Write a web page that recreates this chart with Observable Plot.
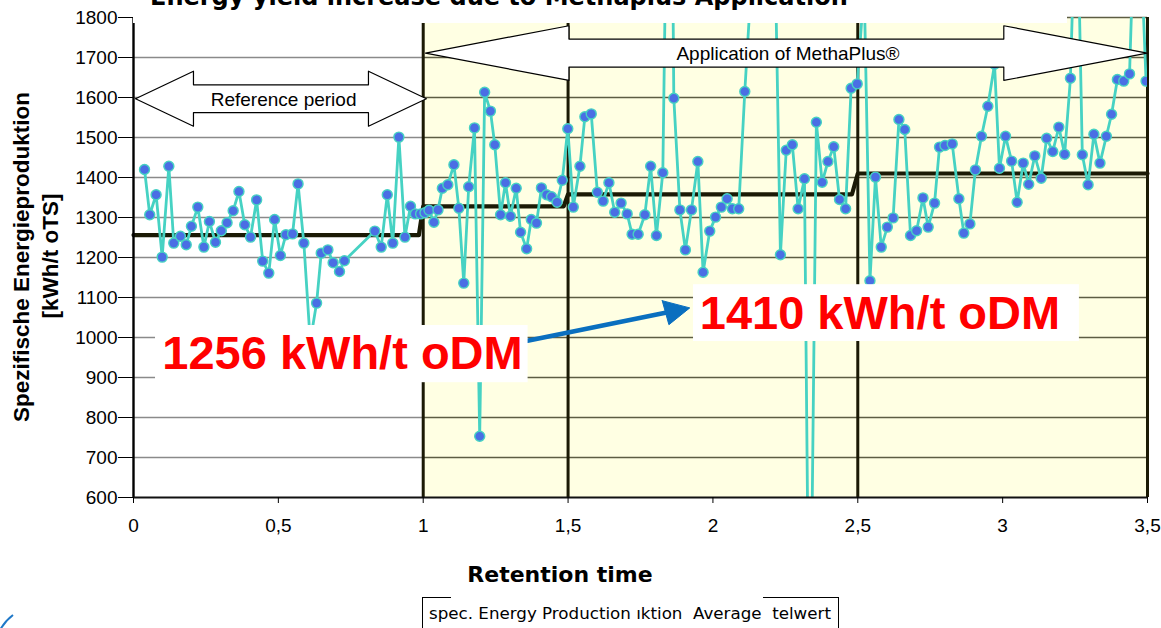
<!DOCTYPE html>
<html><head><meta charset="utf-8">
<script src="https://cdn.jsdelivr.net/npm/d3@7"></script>
<script src="https://cdn.jsdelivr.net/npm/@observablehq/plot@0.6"></script>
<style>
body{margin:0;background:#fff;}
#wrap{position:relative;width:1161px;height:628px;overflow:hidden;background:#fff;}
#chart{position:absolute;left:0;top:0;}
#title{position:absolute;left:133px;top:0;width:934px;height:23px;background:#fff;overflow:hidden;}
#title span{position:absolute;left:17px;top:-15px;font:bold 24px/24px "DejaVu Sans",sans-serif;white-space:nowrap;color:#000;}
#xtitle{position:absolute;left:360px;width:400px;top:562px;text-align:center;font:bold 22px/26px "DejaVu Sans",sans-serif;color:#000;}
#legend{position:absolute;left:422px;top:597px;width:415px;height:40px;border-left:1px solid #000;border-right:1px solid #000;}
#legend .t1{position:absolute;left:0;top:0;width:28px;height:1px;background:#000;}
#legend .t2{position:absolute;right:0;top:0;width:75px;height:1px;background:#000;}
#legend span{position:absolute;left:6px;top:6px;font:16.7px/20px "DejaVu Sans",sans-serif;white-space:nowrap;color:#000;}
#over{position:absolute;left:0;top:0;}
</style></head><body>
<div id="wrap">
  <div id="chart"></div>
  <div id="title"><span id="titleText"></span></div>
  <svg id="over" width="1161" height="628"></svg>
  <div id="xtitle"></div>
  <div id="legend"><div class="t1"></div><div class="t2"></div><span id="legendText"></span></div>
</div>
<script>
// ---------- data ----------
const retentionTime = [0.038,0.056,0.078,0.099,0.122,0.139,0.162,0.182,0.200,0.222,
0.243,0.262,0.283,0.303,0.323,0.344,0.364,0.384,0.404,0.425,
0.446,0.467,0.487,0.507,0.526,0.549,0.568,0.588,0.610,0.632,
0.648,0.671,0.689,0.711,0.728,0.833,0.855,0.876,0.895,0.916,
0.937,0.956,0.973,0.991,1.006,1.020,1.037,1.051,1.066,1.085,
1.106,1.123,1.140,1.157,1.177,1.195,1.212,1.232,1.247,1.267,
1.284,1.301,1.321,1.336,1.357,1.373,1.391,1.408,1.426,1.443,
1.462,1.480,1.499,1.518,1.541,1.558,1.580,1.601,1.621,1.641,
1.661,1.683,1.704,1.721,1.742,1.765,1.785,1.805,1.827,1.852,
1.865,1.886,1.905,1.926,1.948,1.966,1.989,2.009,2.029,2.049,
2.067,2.089,2.110,2.197,2.233,2.253,2.274,2.294,2.316,2.334,
2.357,2.377,2.397,2.417,2.437,2.458,2.477,2.498,2.522,2.542,
2.561,2.581,2.602,2.622,2.642,2.662,2.682,2.703,2.725,2.743,
2.765,2.782,2.801,2.826,2.849,2.866,2.887,2.906,2.927,2.949,
2.972,2.989,3.010,3.031,3.050,3.071,3.090,3.111,3.133,3.152,
3.173,3.194,3.214,3.234,3.255,3.275,3.295,3.315,3.336,3.358,
3.376,3.396,3.418,3.438,3.463,3.495];
const specEnergy = [1420,1307,1357,1201,1428,1236,1253,1232,1278,1326,
1226,1290,1238,1267,1287,1317,1365,1282,1251,1344,
1191,1161,1295,1205,1257,1259,1384,1236,990,1086,
1211,1219,1187,1165,1192,1266,1226,1357,1236,1501,
1251,1328,1309,1309,1312,1318,1288,1319,1373,1382,
1432,1323,1136,1377,1524,753,1613,1566,1482,1307,
1387,1303,1373,1263,1222,1295,1286,1374,1357,1352,
1338,1393,1522,1326,1428,1552,1559,1363,1341,1387,
1313,1336,1309,1258,1258,1307,1428,1255,1412,2750,
1598,1319,1219,1319,1440,1163,1266,1301,1326,1347,
1322,1322,1615,2670,1207,1468,1482,1322,1397,0,
1538,1388,1440,1477,1345,1322,1623,1634,1880,1142,
1401,1226,1276,1299,1545,1520,1255,1267,1349,1276,
1336,1476,1480,1484,1347,1261,1284,1419,1503,1578,
1683,1423,1503,1441,1338,1436,1383,1454,1398,1498,
1465,1526,1458,1648,2190,1457,1382,1508,1436,1503,
1558,1645,1641,1659,2240,1641];
const avgTime  = [0, 0.985, 1.0, 1.485, 1.5, 2.48, 2.5, 3.5];
const avgValue = [1256, 1256, 1328, 1328, 1358, 1358, 1410, 1410];
const periodBounds = [1, 1.5, 2.5, 3.5];
const xTicks = [0, 0.5, 1, 1.5, 2, 2.5, 3, 3.5];
const xTickLabels = ["0","0,5","1","1,5","2","2,5","3","3,5"];
const yTicks = [600,700,800,900,1000,1100,1200,1300,1400,1500,1600,1700,1800];
const yTickLabels = ["600","700","800","900","1000","1100","1200","1300","1400","1500","1600","1700","1800"];
const titleText = "Energy yield increase due to Methaplus Application";
const xTitle = "Retention time";
const yTitle1 = "Spezifische Energieproduktion";
const yTitle2 = "[kWh/t oTS]";
const legendText = "spec. Energy Production ıktion\u00a0 Average\u00a0 telwert";
const refLabel = "Reference period";
const appLabel = "Application of MethaPlus®";
const beforeLabel = "1256 kWh/t oDM";
const afterLabel = "1410 kWh/t oDM";

// ---------- build ----------
const series = retentionTime.map((t, i) => ({t, v: specEnergy[i]}));
const avg = avgTime.map((t, i) => ({t, v: avgValue[i]}));

function doubleArrow(x1, x2, yc, headLen, headHalf, shaftHalf) {
  return [
    [x1, yc], [x1 + headLen, yc + headHalf], [x1 + headLen, yc + shaftHalf],
    [x2 - headLen, yc + shaftHalf], [x2 - headLen, yc + headHalf], [x2, yc],
    [x2 - headLen, yc - headHalf], [x2 - headLen, yc - shaftHalf],
    [x1 + headLen, yc - shaftHalf], [x1 + headLen, yc - headHalf], [x1, yc]
  ];
}
const refArrow = doubleArrow(0.007, 1.011, 1597, 0.2, 68.7, 34.6);
const appArrow = doubleArrow(1.008, 3.499, 1711, 0.495, 68.4, 35);
const blueShaft = [[1.360, 992], [1.836, 1062]];
const blueHead = [[1.825, 1092], [1.920, 1074], [1.848, 1032], [1.825, 1092]];
const boxes = [
  {x1: 0.076, x2: 1.362, y1: 887, y2: 1030, label: beforeLabel, cx: 0.7214, cy: 958},
  {x1: 1.933, x2: 3.265, y1: 990, y2: 1132, label: afterLabel, cx: 2.5765, cy: 1058}
];
const arrowTexts = [
  {x: 0.518, y: 1593, text: refLabel},
  {x: 2.259, y: 1710, text: appLabel}
];

const teal = "#46d2c3";
const dark = "#1b1a05";

const chart = Plot.plot({
  width: 1161, height: 545,
  marginLeft: 133, marginRight: 14, marginTop: 17, marginBottom: 48,
  style: {fontFamily: "'Liberation Sans', Arial, sans-serif", fontSize: "19px", background: "transparent", color: "#000"},
  x: {domain: [0, 3.5]},
  y: {domain: [600, 1800]},
  marks: [
    Plot.rect([0], {x1: 1, x2: 3.5, y1: 600, y2: 1800, fill: "#ffffe3"}),
    Plot.ruleY(yTicks.slice(1), {x1: 0, x2: 1, stroke: "#8a8a8a", strokeWidth: 1.4}),
    Plot.ruleY(yTicks.slice(1), {x1: 1, x2: 3.5, stroke: "#5d5d43", strokeWidth: 1.6}),
    Plot.ruleX(periodBounds, {y1: 600, y2: 1800, stroke: dark, strokeWidth: 3}),
    Plot.line(avg, {x: "t", y: "v", stroke: dark, strokeWidth: 4.2}),
    Plot.line(series, {x: "t", y: "v", stroke: teal, strokeWidth: 2.8, clip: true}),
    Plot.dot(series, {x: "t", y: "v", r: 5, fill: "#4a6ee4", stroke: teal, strokeWidth: 1.4, clip: true}),
    Plot.ruleX([0], {y1: 600, y2: 1800, stroke: "#000", strokeWidth: 2.4}),
    Plot.ruleY([600], {x1: 0, x2: 3.5, stroke: "#111", strokeWidth: 2}),
    Plot.axisY({ticks: yTicks, tickSize: 15, tickPadding: 1, label: null, fontSize: 19, stroke: "#000",
      tickFormat: d => yTickLabels[yTicks.indexOf(d)]}),
    Plot.axisX({ticks: xTicks, tickSize: 6, tickPadding: 15, label: null, fontSize: 19,
      tickFormat: d => xTickLabels[xTicks.indexOf(d)]}),
    Plot.line(refArrow, {x: d => d[0], y: d => d[1], fill: "white", stroke: "#000", strokeWidth: 1.2}),
    Plot.line(appArrow, {x: d => d[0], y: d => d[1], fill: "white", stroke: "#000", strokeWidth: 1.2}),
    Plot.text(arrowTexts, {x: "x", y: "y", text: "text", fontSize: 19, fill: "#000"}),
    Plot.line(blueShaft, {x: d => d[0], y: d => d[1], stroke: "#0a6fbf", strokeWidth: 4.5}),
    Plot.line(blueHead, {x: d => d[0], y: d => d[1], fill: "#0a6fbf", stroke: "#0a6fbf", strokeWidth: 1}),
    Plot.rect(boxes, {x1: "x1", x2: "x2", y1: "y1", y2: "y2", fill: "white"}),
    Plot.text(boxes, {x: "cx", y: "cy", text: "label", fontSize: 47, fontWeight: "bold", fill: "#ff0000",
      fontFamily: "'Liberation Sans', Arial, sans-serif"})
  ]
});
document.getElementById("chart").appendChild(chart);
document.getElementById("titleText").textContent = titleText;
document.getElementById("xtitle").textContent = xTitle;
document.getElementById("legendText").textContent = legendText;

const over = d3.select("#over");
const yt = over.append("g").attr("font-family", "'Liberation Sans', Arial, sans-serif")
  .attr("font-weight", "bold").attr("font-size", 22.5).attr("text-anchor", "middle");
yt.append("text").attr("transform", "translate(29,257) rotate(-90)").text(yTitle1);
yt.append("text").attr("transform", "translate(58,256) rotate(-90)").text(yTitle2);
over.append("path").attr("d", "M0,630 Q5,621 13,615").attr("fill", "none")
  .attr("stroke", "#1f78c8").attr("stroke-width", 2);
</script>
</body></html>
